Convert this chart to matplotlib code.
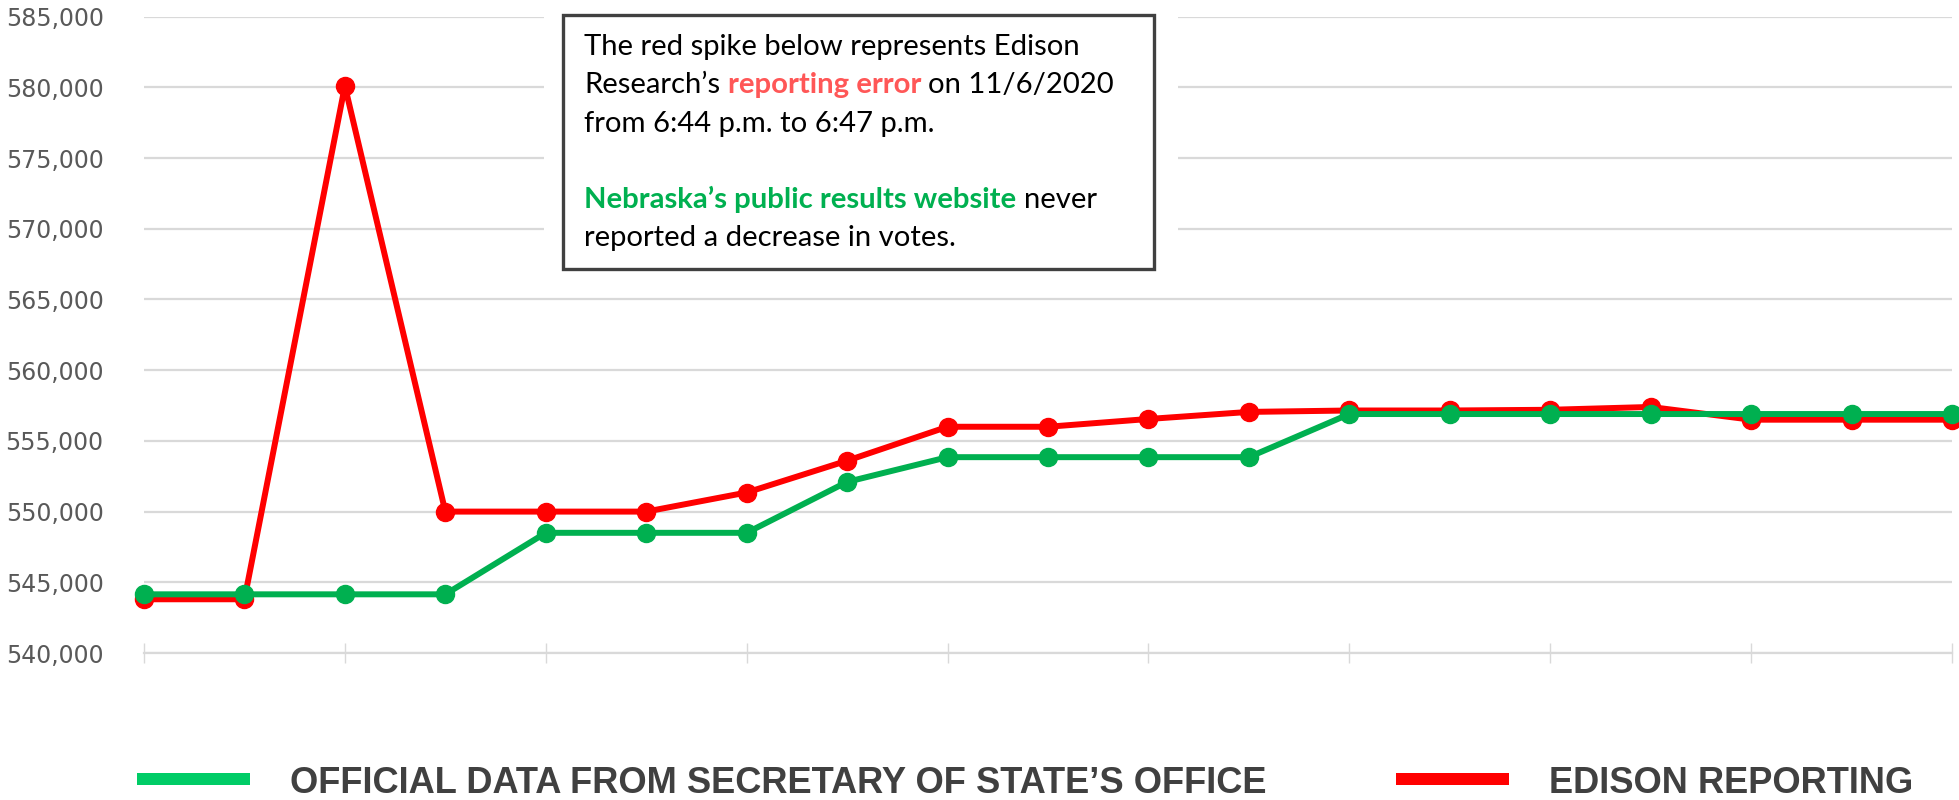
import matplotlib
matplotlib.use("Agg")
import matplotlib.pyplot as plt
from matplotlib.patches import Rectangle
from matplotlib.font_manager import FontProperties, findfont
from matplotlib.ticker import FuncFormatter, MultipleLocator

# ---------------- data ----------------
official_votes = [544150, 544150, 544150, 544150, 548500, 548500, 548500, 552100,
                  553850, 553850, 553850, 553850, 556900, 556900, 556900, 556900,
                  556900, 556900, 556900]
edison_votes = [543800, 543800, 580100, 550000, 550000, 550000, 551350, 553600,
                556000, 556000, 556550, 557050, 557150, 557150, 557200, 557400,
                556500, 556500, 556500]
y_ticks = [540000, 545000, 550000, 555000, 560000, 565000, 570000, 575000, 580000, 585000]
legend_labels = ["OFFICIAL DATA FROM SECRETARY OF STATE\u2019S OFFICE", "EDISON REPORTING"]
note_lines = [
    [("The red spike below represents Edison", "black", "normal")],
    [("Research\u2019s", "black", "normal"), ("reporting error", "#FF5757", "bold"),
     ("on 11/6/2020", "black", "normal")],
    [("from 6:44 p.m. to 6:47 p.m.", "black", "normal")],
    [],
    [("Nebraska\u2019s public results website", "#00B050", "bold"), ("never", "black", "normal")],
    [("reported a decrease in votes.", "black", "normal")],
]

W, H = 1959, 800
fig = plt.figure(figsize=(W / 100, H / 100), dpi=100)

def fx(x):
    return x / W

def fy(y):
    return 1 - y / H

x0, x1 = 144, 1952
ytop, ybot = 16.7, 653
ax = fig.add_axes([fx(x0), fy(ybot), (x1 - x0) / W, (ybot - ytop) / H])
n = len(official_votes)
xs = list(range(n))
ax.set_xlim(0, n - 1)
ax.set_ylim(y_ticks[0], y_ticks[-1])

grid_c = "#D9D9D9"
ax.yaxis.set_major_locator(MultipleLocator(5000))
ax.yaxis.grid(True, color=grid_c, lw=1.6, zorder=0)
ax.set_axisbelow(True)
for s in ["top", "right", "left"]:
    ax.spines[s].set_visible(False)
ax.spines["bottom"].set_color(grid_c)
ax.spines["bottom"].set_linewidth(1.6)
ax.set_xticks(list(range(0, n, 2)))
ax.set_xticklabels([])
ax.tick_params(axis="x", direction="inout", length=14, width=1.0, color=grid_c)
ax.tick_params(axis="y", length=0, pad=29, labelsize=17, labelcolor="#595959")
ax.yaxis.set_major_formatter(FuncFormatter(lambda v, p: f"{int(v):,}"))

red = "#FF0000"
green = "#00B050"
ax.plot(xs, edison_votes, color=red, lw=4.3, marker="o", ms=13, zorder=3, clip_on=False,
        solid_joinstyle="round")
ax.plot(xs, official_votes, color=green, lw=4.3, marker="o", ms=13, zorder=4, clip_on=False,
        solid_joinstyle="round")

# ---------------- annotation box ----------------
fig.patches.append(Rectangle((fx(544), fy(289)), (1178 - 544) / W, (289 - 0) / H,
                             transform=fig.transFigure, facecolor="white", edgecolor="none",
                             zorder=10))
fig.patches.append(Rectangle((fx(563), fy(269)), (1154 - 563) / W, (269 - 15) / H,
                             transform=fig.transFigure, facecolor="white", edgecolor="#404040",
                             lw=2.4, zorder=11))

renderer = fig.canvas.get_renderer()
note_font = "Lato"

def text_width(s, size, weight, family):
    t = fig.text(0, 0, s, fontsize=size, fontweight=weight, family=family)
    w = t.get_window_extent(renderer).width
    t.remove()
    return w

base = 20
w1 = text_width(note_lines[0][0][0], base, "normal", note_font)
note_size = base * 497 / w1

def space_width(size, weight, family):
    return text_width("a a", size, weight, family) - text_width("aa", size, weight, family)

baselines = [55, 93, 132, 170, 208, 246]
for line, by in zip(note_lines, baselines):
    cx = 584
    for i, (seg, col, wt) in enumerate(line):
        t = fig.text(fx(cx), fy(by), seg, fontsize=note_size, fontweight=wt, color=col,
                     family=note_font, ha="left", va="baseline", zorder=12)
        cx += t.get_window_extent(renderer).width + space_width(note_size, "normal", note_font)

# ---------------- legend ----------------
leg_family = "Liberation Sans Narrow"
try:
    findfont(FontProperties(family=leg_family, weight="bold"), fallback_to_default=False)
except Exception:
    leg_family = "Liberation Sans"

leg_c = "#404040"
lw0 = text_width(legend_labels[0], 30, "bold", leg_family)
leg_size = 30 * 975 / lw0

fig.patches.append(Rectangle((fx(137), fy(785)), (250 - 137) / W, 12 / H,
                             transform=fig.transFigure, facecolor="#00CC66", edgecolor="none"))
fig.patches.append(Rectangle((fx(1396), fy(785)), (1509 - 1396) / W, 12 / H,
                             transform=fig.transFigure, facecolor="#FF0000", edgecolor="none"))
fig.text(fx(290), fy(793), legend_labels[0], fontsize=leg_size, fontweight="bold",
         family=leg_family, color=leg_c, ha="left", va="baseline")
fig.text(fx(1549), fy(793), legend_labels[1], fontsize=leg_size, fontweight="bold",
         family=leg_family, color=leg_c, ha="left", va="baseline")

fig.savefig("out.png", dpi=100, facecolor="white")
